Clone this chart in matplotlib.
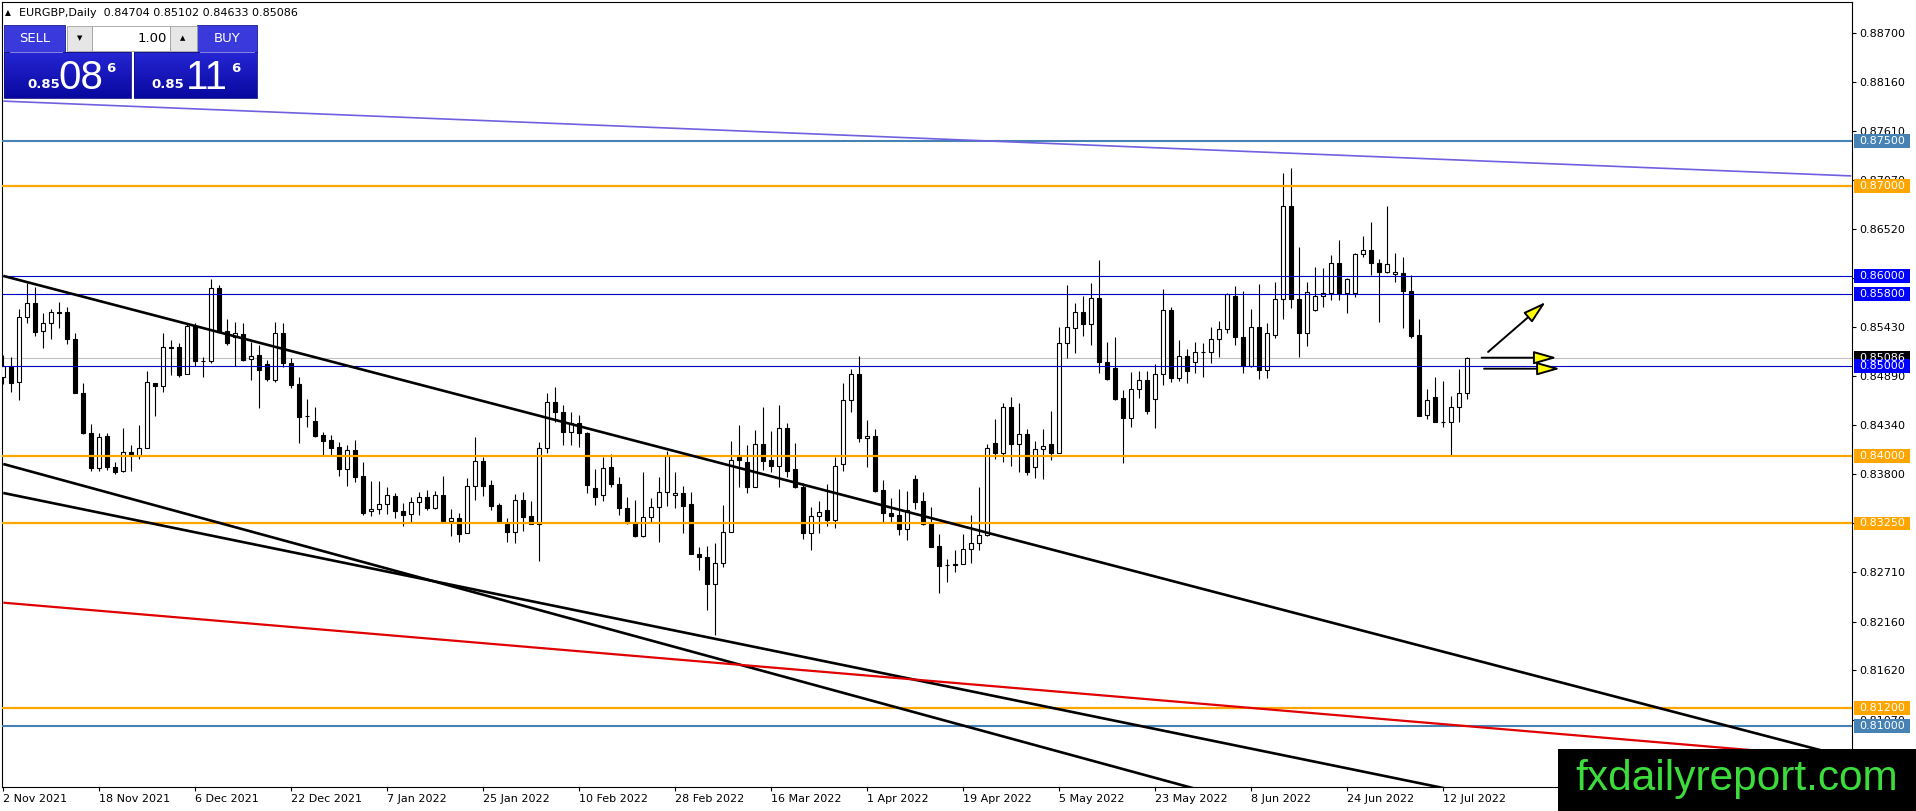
import numpy as np
import matplotlib
matplotlib.use('Agg')
import matplotlib.pyplot as plt
from matplotlib.patches import Rectangle
from matplotlib.colors import LinearSegmentedColormap

# daily candles, first bar = 2 Nov 2021
opens = [0.84882, 0.85000, 0.84826, 0.85548, 0.85697, 0.85393, 0.85474, 0.85596, 0.85596, 0.85300,
         0.84704, 0.84252, 0.83863, 0.84222, 0.83882, 0.83834, 0.84048, 0.84004, 0.84085, 0.84808,
         0.84778, 0.85208, 0.85208, 0.84908, 0.85445, 0.85060, 0.85050, 0.85863, 0.85390, 0.85319,
         0.85360, 0.85078, 0.85122, 0.85022, 0.84845, 0.85363, 0.85037, 0.84800, 0.84445, 0.84389,
         0.84230, 0.84178, 0.84097, 0.83852, 0.84067, 0.83778, 0.83386, 0.83408, 0.83463, 0.83556,
         0.83393, 0.83352, 0.83486, 0.83549, 0.83419, 0.83563, 0.83282, 0.83308, 0.83141, 0.83667,
         0.83945, 0.83678, 0.83456, 0.83252, 0.83160, 0.83511, 0.83333, 0.83244, 0.84085, 0.84604,
         0.84493, 0.84270, 0.84370, 0.84252, 0.83641, 0.83567, 0.83874, 0.83689, 0.83419, 0.83270,
         0.83115, 0.83326, 0.83430, 0.83604, 0.83563, 0.83585, 0.83467, 0.82911, 0.82874, 0.82574,
         0.82807, 0.83160, 0.83985, 0.83937, 0.83659, 0.84130, 0.83956, 0.83893, 0.84307, 0.83852,
         0.83659, 0.83141, 0.83337, 0.83400, 0.83289, 0.83911, 0.84622, 0.84907, 0.84196, 0.84222,
         0.83622, 0.83370, 0.83344, 0.83185, 0.83740, 0.83500, 0.83252, 0.83000, 0.82789, 0.82800,
         0.82796, 0.82963, 0.83030, 0.83122, 0.84140, 0.84030, 0.84541, 0.84130, 0.84241, 0.83874,
         0.84074, 0.84130, 0.84030, 0.85252, 0.85419, 0.85596, 0.85463, 0.85760, 0.85048, 0.84974,
         0.84641, 0.84419, 0.84741, 0.84844, 0.84630, 0.84907, 0.85622, 0.84870, 0.85115, 0.85048,
         0.85159, 0.85152, 0.85296, 0.85407, 0.85778, 0.85319, 0.85004, 0.85430, 0.84956, 0.85344,
         0.85741, 0.86781, 0.85741, 0.85363, 0.85622, 0.85778, 0.85815, 0.86141, 0.85807, 0.85815,
         0.86241, 0.86289, 0.86141, 0.86048, 0.86019, 0.86030, 0.85833, 0.85344, 0.84456, 0.84652,
         0.84381, 0.84381, 0.84541, 0.84704]
highs = [0.85122, 0.85104, 0.85630, 0.85926, 0.85882, 0.85585, 0.85630, 0.85715, 0.85660, 0.85371,
         0.84808, 0.84356, 0.84252, 0.84252, 0.83937, 0.84308, 0.84122, 0.84345, 0.84945, 0.84808,
         0.85363, 0.85289, 0.85252, 0.85474, 0.85474, 0.85104, 0.85963, 0.85900, 0.85519, 0.85489,
         0.85482, 0.85270, 0.85233, 0.85067, 0.85493, 0.85482, 0.85085, 0.84882, 0.84630, 0.84549,
         0.84270, 0.84234, 0.84160, 0.84123, 0.84178, 0.83937, 0.83723, 0.83723, 0.83652, 0.83593,
         0.83482, 0.83549, 0.83597, 0.83623, 0.83615, 0.83778, 0.83408, 0.83371, 0.83752, 0.84215,
         0.83986, 0.83734, 0.83480, 0.83307, 0.83578, 0.83604, 0.83500, 0.84159, 0.84696, 0.84763,
         0.84567, 0.84493, 0.84456, 0.84270, 0.83852, 0.83985, 0.84022, 0.83763, 0.83548, 0.83511,
         0.83819, 0.83530, 0.83770, 0.84059, 0.83826, 0.83667, 0.83596, 0.82993, 0.83000, 0.83030,
         0.83456, 0.84167, 0.84344, 0.84122, 0.84290, 0.84548, 0.84278, 0.84567, 0.84363, 0.84148,
         0.83704, 0.83437, 0.83500, 0.83689, 0.83993, 0.84807, 0.84967, 0.85111, 0.84400, 0.84296,
         0.83733, 0.83530, 0.83630, 0.83611, 0.83789, 0.83604, 0.83430, 0.83130, 0.82852, 0.82956,
         0.83130, 0.83344, 0.83659, 0.84133, 0.84407, 0.84593, 0.84660, 0.84593, 0.84296, 0.84167,
         0.84296, 0.84500, 0.85437, 0.85900, 0.85696, 0.85778, 0.85919, 0.86178, 0.85263, 0.85319,
         0.84733, 0.84937, 0.84948, 0.84948, 0.85022, 0.85852, 0.85659, 0.85289, 0.85185, 0.85270,
         0.85259, 0.85437, 0.85500, 0.85815, 0.85889, 0.85833, 0.85630, 0.85907, 0.85481, 0.85930,
         0.87140, 0.87196, 0.86319, 0.85937, 0.86104, 0.86085, 0.86233, 0.86400, 0.85981, 0.86259,
         0.86444, 0.86604, 0.86185, 0.86778, 0.86252, 0.86215, 0.86011, 0.85519, 0.84741, 0.84874,
         0.84837, 0.84667, 0.84963, 0.85102]
lows = [0.84800, 0.84715, 0.84622, 0.85474, 0.85334, 0.85196, 0.85300, 0.85426, 0.85245, 0.84696,
        0.84245, 0.83837, 0.83837, 0.83845, 0.83797, 0.83826, 0.83837, 0.83963, 0.84085, 0.84445,
        0.84715, 0.84900, 0.84882, 0.84908, 0.85000, 0.84874, 0.85037, 0.85382, 0.85234, 0.85000,
        0.85056, 0.84845, 0.84530, 0.84830, 0.84826, 0.84985, 0.84750, 0.84141, 0.84326, 0.84215,
        0.84012, 0.84012, 0.83778, 0.83667, 0.83715, 0.83345, 0.83337, 0.83356, 0.83356, 0.83315,
        0.83226, 0.83263, 0.83345, 0.83400, 0.83408, 0.83271, 0.83115, 0.83049, 0.83141, 0.83512,
        0.83556, 0.83400, 0.83250, 0.83048, 0.83037, 0.83171, 0.83244, 0.82837, 0.84030, 0.84381,
        0.84122, 0.84122, 0.84104, 0.83585, 0.83456, 0.83504, 0.83660, 0.83345, 0.83244, 0.83104,
        0.83104, 0.83270, 0.83048, 0.83448, 0.83419, 0.83148, 0.82907, 0.82733, 0.82289, 0.82011,
        0.82763, 0.83160, 0.83660, 0.83593, 0.83659, 0.83844, 0.83826, 0.83659, 0.83763, 0.83641,
        0.83074, 0.82956, 0.83148, 0.83222, 0.83204, 0.83833, 0.84493, 0.84159, 0.83874, 0.83604,
        0.83270, 0.83270, 0.83122, 0.83067, 0.83411, 0.83233, 0.82993, 0.82474, 0.82604, 0.82715,
        0.82796, 0.82807, 0.82956, 0.83111, 0.83963, 0.83937, 0.83889, 0.83826, 0.83789, 0.83752,
        0.83741, 0.83956, 0.84030, 0.85085, 0.85148, 0.85333, 0.85233, 0.84919, 0.84844, 0.84622,
        0.83926, 0.84326, 0.84641, 0.84467, 0.84315, 0.84789, 0.84826, 0.84837, 0.84807, 0.84926,
        0.84874, 0.85030, 0.85096, 0.85363, 0.85233, 0.84919, 0.84993, 0.84852, 0.84863, 0.85307,
        0.85519, 0.85641, 0.85104, 0.85222, 0.85615, 0.85659, 0.85733, 0.85733, 0.85593, 0.85763,
        0.86215, 0.86011, 0.85493, 0.86030, 0.85937, 0.85419, 0.85307, 0.84444, 0.84407, 0.84381,
        0.84326, 0.84011, 0.84381, 0.84633]
closes = [0.85000, 0.84815, 0.85548, 0.85697, 0.85382, 0.85474, 0.85596, 0.85590, 0.85300, 0.84704,
          0.84252, 0.83863, 0.84208, 0.83874, 0.83822, 0.84048, 0.84011, 0.84085, 0.84826, 0.84778,
          0.85208, 0.85205, 0.84900, 0.85440, 0.85050, 0.85057, 0.85863, 0.85382, 0.85260, 0.85363,
          0.85067, 0.85115, 0.84956, 0.84852, 0.85363, 0.85037, 0.84790, 0.84437, 0.84442, 0.84226,
          0.84171, 0.84093, 0.83852, 0.84067, 0.83771, 0.83371, 0.83408, 0.83463, 0.83563, 0.83393,
          0.83345, 0.83486, 0.83541, 0.83419, 0.83563, 0.83282, 0.83308, 0.83134, 0.83671, 0.83945,
          0.83667, 0.83449, 0.83271, 0.83160, 0.83511, 0.83326, 0.83244, 0.84085, 0.84604, 0.84485,
          0.84270, 0.84370, 0.84252, 0.83678, 0.83548, 0.83863, 0.83689, 0.83419, 0.83259, 0.83115,
          0.83326, 0.83430, 0.83604, 0.84000, 0.83585, 0.83448, 0.82907, 0.82874, 0.82574, 0.82807,
          0.83160, 0.83956, 0.83956, 0.83652, 0.84130, 0.83948, 0.83893, 0.84307, 0.83837, 0.83652,
          0.83141, 0.83337, 0.83381, 0.83289, 0.83893, 0.84622, 0.84907, 0.84196, 0.84222, 0.83611,
          0.83363, 0.83337, 0.83185, 0.83400, 0.83493, 0.83241, 0.82993, 0.82778, 0.82786, 0.82785,
          0.82963, 0.83030, 0.83122, 0.84085, 0.84037, 0.84541, 0.84130, 0.84241, 0.83826, 0.84074,
          0.84115, 0.84030, 0.85252, 0.85430, 0.85596, 0.85463, 0.85760, 0.85048, 0.84856, 0.84633,
          0.84419, 0.84741, 0.84844, 0.84504, 0.84907, 0.85622, 0.84870, 0.85115, 0.84944, 0.85159,
          0.85156, 0.85296, 0.85407, 0.85796, 0.85319, 0.85004, 0.85430, 0.84956, 0.85370, 0.85741,
          0.86781, 0.85741, 0.85363, 0.85826, 0.85778, 0.85807, 0.86141, 0.85807, 0.85963, 0.86241,
          0.86289, 0.86141, 0.86048, 0.86130, 0.86041, 0.85833, 0.85337, 0.84444, 0.84622, 0.84381,
          0.84378, 0.84541, 0.84704, 0.85086]

date_labels = ['2 Nov 2021', '18 Nov 2021', '6 Dec 2021', '22 Dec 2021', '7 Jan 2022',
               '25 Jan 2022', '10 Feb 2022', '28 Feb 2022', '16 Mar 2022', '1 Apr 2022',
               '19 Apr 2022', '5 May 2022', '23 May 2022', '8 Jun 2022', '24 Jun 2022', '12 Jul 2022']
bars_per_label = 12

price_ticks = [0.88700, 0.88160, 0.87610, 0.87070, 0.86520, 0.85980, 0.85430, 0.84890,
               0.84340, 0.83800, 0.83250, 0.82710, 0.82160, 0.81620, 0.81070, 0.80530]

# horizontal levels: value, line colour, label colour, width
levels = [0.87500, 0.87000, 0.86000, 0.85800, 0.85000, 0.84000, 0.83250, 0.81200, 0.81000]
level_line_colors = ['#4682b4', '#ffa500', '#0000c8', '#0000c8', '#0000c8',
                     '#ffa500', '#ffa500', '#ffa500', '#4682b4']
level_box_colors = ['#4682b4', '#ffa500', '#0000ff', '#0000ff', '#0000ff',
                    '#ffa500', '#ffa500', '#ffa500', '#4682b4']
level_widths = [1.5, 1.6, 0.8, 0.8, 0.8, 1.6, 1.6, 1.6, 1.5]
bid = 0.85086

# trend lines: (bar, price) -> (bar, price)
trend_bars = [(0, 231), (0, 231), (0, 150), (0, 183), (0, 231)]
trend_prices = [(0.87943, 0.87112), (0.86001, 0.80642), (0.83911, 0.80278),
                (0.83589, 0.80256), (0.82370, 0.80638)]
trend_colors = ['#7060e0', 'black', 'black', 'black', '#e00000']
trend_widths = [1.2, 1.9, 1.9, 1.9, 1.6]

# arrows drawn on the chart: start (bar, price) -> tip (bar, price)
arrow_start = [(184.8, 0.85092), (185.1, 0.84970), (185.6, 0.85156)]
arrow_tip = [(194.2, 0.85092), (194.6, 0.84970), (192.8, 0.85711)]

W, H = 1916, 811
fig = plt.figure(figsize=(W / 100, H / 100), dpi=100)
fig.patch.set_facecolor('white')
ax = fig.add_axes([2 / W, 24 / H, 1850 / W, 785 / H])

n = len(opens)
x = np.arange(n)
o = np.array(opens)
c = np.array(closes)
up = c >= o
ax.vlines(x, lows, highs, color='black', lw=0.8, zorder=3)
ax.bar(x, np.maximum(np.abs(c - o), 0.00002), bottom=np.minimum(o, c), width=0.55,
       color=np.where(up, 'white', 'black'), edgecolor='black', linewidth=0.8, zorder=4)

for lv, lc, lw in zip(levels, level_line_colors, level_widths):
    ax.axhline(lv, color=lc, lw=lw, zorder=5)
ax.axhline(bid, color='#c0c0c0', lw=0.8, zorder=2)

for (b0, b1), (p0, p1), col, lw in zip(trend_bars, trend_prices, trend_colors, trend_widths):
    ax.plot([b0, b1], [p0, p1], color=col, lw=lw, zorder=6, solid_capstyle='butt')

for s, t in zip(arrow_start, arrow_tip):
    ax.annotate('', xy=t, xytext=s,
                arrowprops=dict(arrowstyle='-|>,head_length=0.7,head_width=0.2',
                                mutation_scale=20, fc='#ffff00', ec='black', lw=1.4,
                                shrinkA=0, shrinkB=0), zorder=7)

ax.set_xlim(-0.16, 231.09)
ax.set_ylim(0.80322, 0.890444)

ax.set_xticks(np.arange(len(date_labels)) * bars_per_label)
ax.set_xticklabels(date_labels, ha='left')
ax.tick_params(axis='x', direction='out', length=3, width=0.8, pad=2, labelsize=8)

ax.yaxis.tick_right()
ax.set_yticks(price_ticks)
ax.set_yticklabels(['%.5f' % v for v in price_ticks])
ax.tick_params(axis='y', direction='out', length=3, width=0.8, pad=2.2, labelsize=8)
for sp in ax.spines.values():
    sp.set_color('black')
    sp.set_linewidth(0.8)

# price labels on the right scale
ytr = ax.get_yaxis_transform()
box_h = 0.00155
def price_box(v, col):
    ax.add_patch(Rectangle((1.0011, v - box_h / 2), 0.0303, box_h, transform=ytr,
                           facecolor=col, edgecolor='none', clip_on=False, zorder=8))
    ax.text(1.0038, v, '%.5f' % v, transform=ytr, color='white', fontsize=8,
            ha='left', va='center', clip_on=False, zorder=9)

price_box(bid, 'black')
for lv, bc in zip(levels, level_box_colors):
    price_box(lv, bc)

# overlay in pixel units for the header, trade panel and watermark
ov = fig.add_axes([0, 0, 1, 1], zorder=10)
ov.set_xlim(0, W)
ov.set_ylim(H, 0)
ov.axis('off')
ov.patch.set_visible(False)

ov.text(5, 13, '\u25b2', fontsize=5.5, va='center', ha='left')
ov.text(19, 13, 'EURGBP,Daily  %.5f %.5f %.5f %.5f' % (opens[-1], highs[-1], lows[-1], closes[-1]),
        fontsize=8, va='center', ha='left')

btn = '#3a3adc'
ov.add_patch(Rectangle((4, 25), 61, 27, facecolor=btn, edgecolor='#1a1a9a', lw=0.6))
ov.add_patch(Rectangle((197, 25), 60, 27, facecolor=btn, edgecolor='#1a1a9a', lw=0.6))
ov.plot([10, 62], [51.5, 51.5], color='#9a9af0', lw=0.6)
ov.plot([200, 254], [51.5, 51.5], color='#9a9af0', lw=0.6)
ov.text(35, 38, 'SELL', color='white', fontsize=9.5, ha='center', va='center')
ov.text(227, 38, 'BUY', color='white', fontsize=9.5, ha='center', va='center')
ov.add_patch(Rectangle((67, 26), 25, 25, facecolor='#e6e6e6', edgecolor='#a0a0a0', lw=0.6))
ov.add_patch(Rectangle((92, 26), 78, 25, facecolor='white', edgecolor='#a0a0a0', lw=0.6))
ov.add_patch(Rectangle((170, 26), 27, 25, facecolor='#e6e6e6', edgecolor='#a0a0a0', lw=0.6))
ov.text(80, 38, '\u25bc', fontsize=5, ha='center', va='center')
ov.text(183, 38, '\u25b2', fontsize=5, ha='center', va='center')
ov.text(167, 38, '1.00', fontsize=9.5, ha='right', va='center')

grad = LinearSegmentedColormap.from_list('panel', ['#2626d4', '#0808a0'])
g = np.linspace(0, 1, 60).reshape(-1, 1)
for x0, x1 in [(4, 131), (134, 257)]:
    ov.imshow(g, cmap=grad, extent=(x0, x1, 98, 52), aspect='auto', origin='upper')
    ov.add_patch(Rectangle((x0, 52), x1 - x0, 46, facecolor='none', edgecolor='#101080', lw=0.6))

ov.text(27, 88, '0.85', color='white', fontsize=9.5, fontweight='bold', va='baseline')
ov.text(58, 89, '08', color='white', fontsize=29, family='Liberation Sans', va='baseline')
ov.text(106, 72, '6', color='white', fontsize=9.5, fontweight='bold', va='baseline')
ov.text(151, 88, '0.85', color='white', fontsize=9.5, fontweight='bold', va='baseline')
ov.text(186, 89, '11', color='white', fontsize=29, family='Liberation Sans', va='baseline')
ov.text(231, 72, '6', color='white', fontsize=9.5, fontweight='bold', va='baseline')
ov.set_xlim(0, W)
ov.set_ylim(H, 0)

# watermark
ov.add_patch(Rectangle((1558, 749), W - 1558, H - 749, facecolor='black', edgecolor='none'))
ov.text(1575, 790, 'fxdailyreport.com', color='#3cdc3c', fontsize=30.5,
        family='Liberation Sans', va='baseline', ha='left')

fig.savefig('out.png', dpi=100)
